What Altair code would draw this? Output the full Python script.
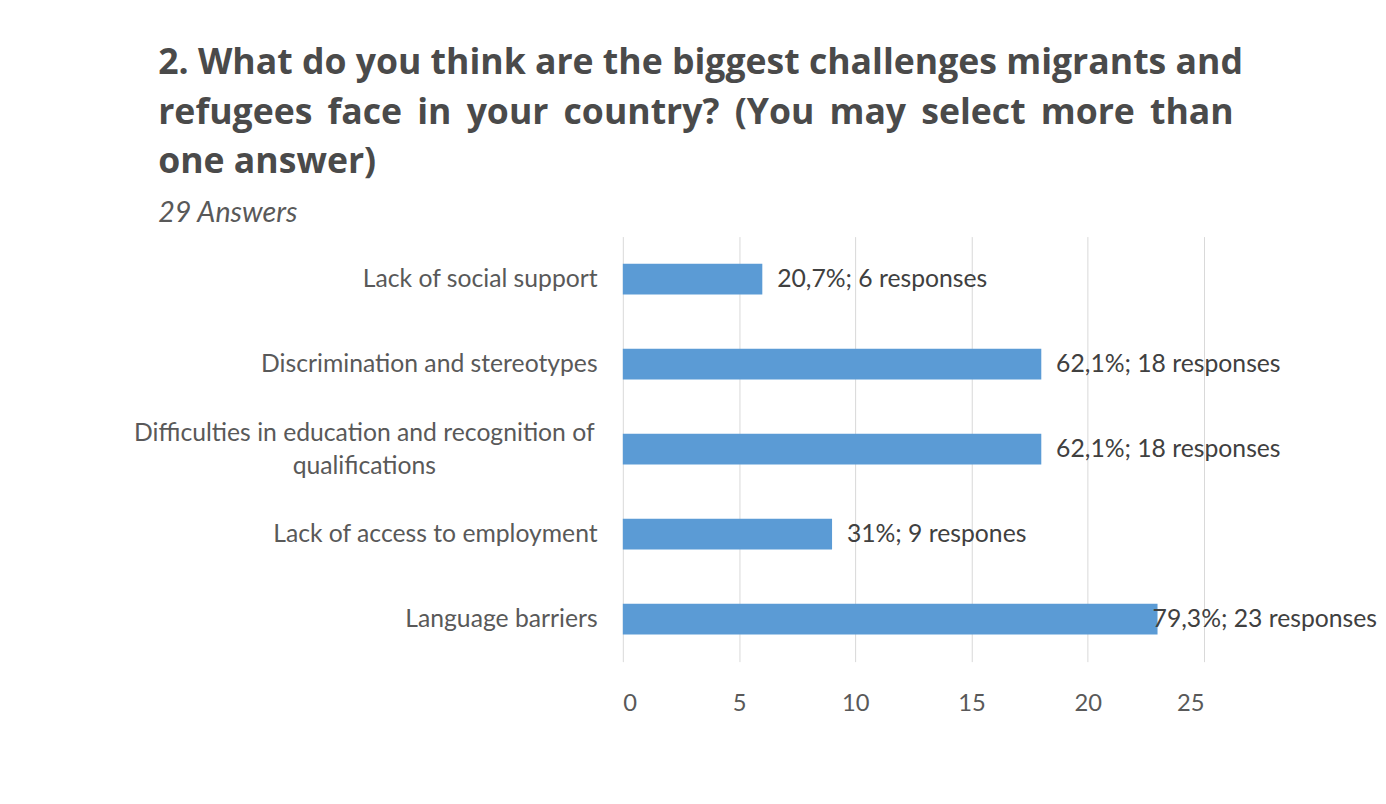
import altair as alt
import pandas as pd

categories = [
    "Lack of social support",
    "Discrimination and stereotypes",
    "Difficulties in education and recognition of qualifications",
    "Lack of access to employment",
    "Language barriers",
]
counts = [6, 18, 18, 9, 23]
bar_labels = [
    "20,7%; 6 responses",
    "62,1%; 18 responses",
    "62,1%; 18 responses",
    "31%; 9 respones",
    "79,3%; 23 responses",
]
x_ticks = [0, 5, 10, 15, 20, 25]

THIN = "\u2009"
title_lines = [
    "2. What do you think are the biggest challenges migrants and",
    (" " + THIN).join("refugees face in your country? (You may select more than".split(" ")),
    "one answer)",
]
subtitle = "29 Answers"

df = pd.DataFrame({"category": categories, "count": counts, "label": bar_labels})
df["last"] = df["category"] == "Language barriers"

FONT = "Lato"
LBL = "#595959"
LONG = "Difficulties in education and recognition of qualifications"
is_long = "datum.value == '" + LONG + "'"

label_expr = (
    is_long + " ? ['Difficulties in education and recognition of', 'qualifications'] : datum.value"
)

y_enc = alt.Y(
    "category:N",
    sort=None,
    title=None,
    scale=alt.Scale(paddingInner=0.64, paddingOuter=0.32),
    axis=alt.Axis(
        labelExpr=label_expr,
        labelFont=FONT,
        labelFontSize=25,
        labelColor=LBL,
        labelLimit=700,
        labelPadding={"condition": {"test": is_long, "value": 262}, "value": 26},
        labelAlign={"condition": {"test": is_long, "value": "center"}, "value": "right"},
        labelOffset={"condition": {"test": is_long, "value": -16}, "value": 0},
        labelLineHeight=33,
        ticks=False,
        domain=False,
        grid=False,
    ),
)

x_enc = alt.X(
    "count:Q",
    title=None,
    scale=alt.Scale(domain=[0, 25], nice=False),
    axis=alt.Axis(
        values=x_ticks,
        labelFont=FONT,
        labelFontSize=24,
        labelColor=LBL,
        labelPadding=30,
        ticks=False,
        domain=False,
        grid=True,
        gridColor="#d9d9d9",
        gridWidth=1,
    ),
)

base = alt.Chart(df)

bars = base.mark_bar(color="#5B9BD5").encode(x=x_enc, y=y_enc)

text_main = base.transform_filter("!datum.last").mark_text(
    align="left", baseline="middle", dx=15, font=FONT, fontSize=25, color="#404040"
).encode(x="count:Q", y=alt.Y("category:N", sort=None), text="label:N")

text_last = base.transform_filter("datum.last").mark_text(
    align="left", baseline="middle", dx=-5, font=FONT, fontSize=25, color="#404040"
).encode(x="count:Q", y=alt.Y("category:N", sort=None), text="label:N")

chart = (
    alt.layer(bars, text_main, text_last)
    .properties(
        width=588,
        height=430,
        title=alt.TitleParams(
            text=title_lines,
            subtitle=subtitle,
            anchor="start",
            frame="bounds",
            dx=25,
            font="Open Sans",
            fontSize=36,
            fontWeight="bold",
            color="#4a4a4a",
            lineHeight=50,
            subtitleFont=FONT,
            subtitleFontSize=29,
            subtitleFontStyle="italic",
            subtitleColor=LBL,
            subtitlePadding=18,
            offset=8,
        ),
        padding={"left": 126, "top": 34, "right": 0, "bottom": 20},
        background="white",
    )
    .configure_view(stroke=None)
)

chart.save("out.html", embed_options={"renderer": "svg", "actions": False})
